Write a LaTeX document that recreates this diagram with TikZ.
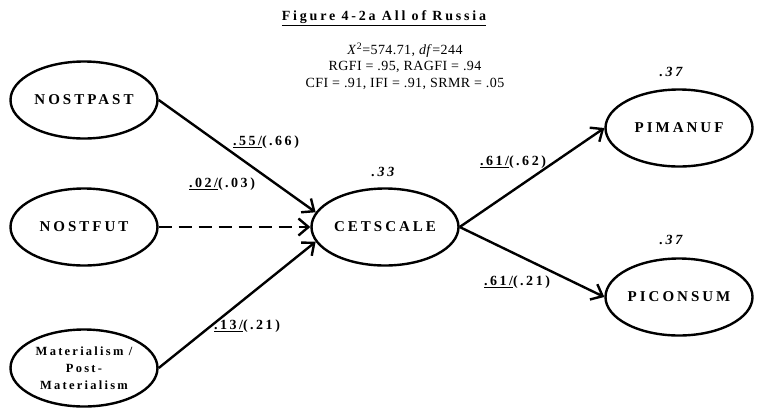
\documentclass[tikz,border=0pt]{standalone}
\usepackage{fontspec}
\setmainfont{Liberation Serif}
\newfontfamily\spc[LetterSpace=20]{Liberation Serif}
\newfontfamily\spd[LetterSpace=18]{Liberation Serif}
\newfontfamily\spe[LetterSpace=3]{Liberation Serif}
\usetikzlibrary{arrows.meta,shapes.geometric}
\begin{document}
\begin{tikzpicture}[x=1pt,y=-1pt,
  var/.style={draw, line width=2.4pt, ellipse, minimum width=147pt, minimum height=77pt, inner sep=0pt,
    font=\spc\bfseries\fontsize{15}{17}\selectfont, align=center},
  smallvar/.style={var, font=\spd\bfseries\fontsize{12.5}{17}\selectfont},
  pathline/.style={line width=2.4pt, -{Straight Barb[length=10pt,width=17pt,line width=2.4pt]}},
  lab/.style={font=\spd\bfseries\fontsize{14}{16}\selectfont, inner sep=0pt},
  rsq/.style={font=\spd\bfseries\itshape\fontsize{14}{16}\selectfont, inner sep=0pt},
  stat/.style={font=\spe\fontsize{14}{16.5}\selectfont, inner sep=0pt, align=center}]
\useasboundingbox (0,0) rectangle (757,416);

\node[font=\spc\bfseries\fontsize{14}{16}\selectfont, inner sep=0pt] (title) at (384,18) {\underline{Figure 4-2a All of Russia}};
\node[stat] (fit) at (405,66) {\textit{X}\textsuperscript{2}=574.71, \textit{df}=244\\RGFI = .95, RAGFI = .94\\CFI = .91, IFI = .91, SRMR = .05};

\node[var] (np) at (84,100) {NOSTPAST};
\node[var] (nf) at (84,227) {NOSTFUT};
\node[smallvar] (mat) at (84,368) {Materialism /\\Post-\\Materialism};
\node[var] (cet) at (385,227) {CETSCALE};
\node[var] (pm) at (679,128) {PIMANUF};
\node[var] (pc) at (679,297) {PICONSUM};

\node[rsq] (r1) at (383,172) {.33};
\node[rsq] (r2) at (671,72) {.37};
\node[rsq] (r3) at (671,240) {.37};

\draw[pathline] (np.east) -- (cet.168);
\draw[pathline, dash pattern=on 13pt off 7pt] (nf.east) -- (cet.west);
\draw[pathline] (mat.east) -- (cet.192);
\draw[pathline] (cet.east) -- (pm.west);
\draw[pathline] (cet.east) -- (pc.west);

\node[lab] (l1) at (266,142) {\underline{.55/}(.66)};
\node[lab] (l2) at (222,184) {\underline{.02/}(.03)};
\node[lab] (l3) at (247,326) {\underline{.13/}(.21)};
\node[lab] (l4) at (513,162) {\underline{.61/}(.62)};
\node[lab] (l5) at (517,282) {\underline{.61/}(.21)};
\end{tikzpicture}
\end{document}
